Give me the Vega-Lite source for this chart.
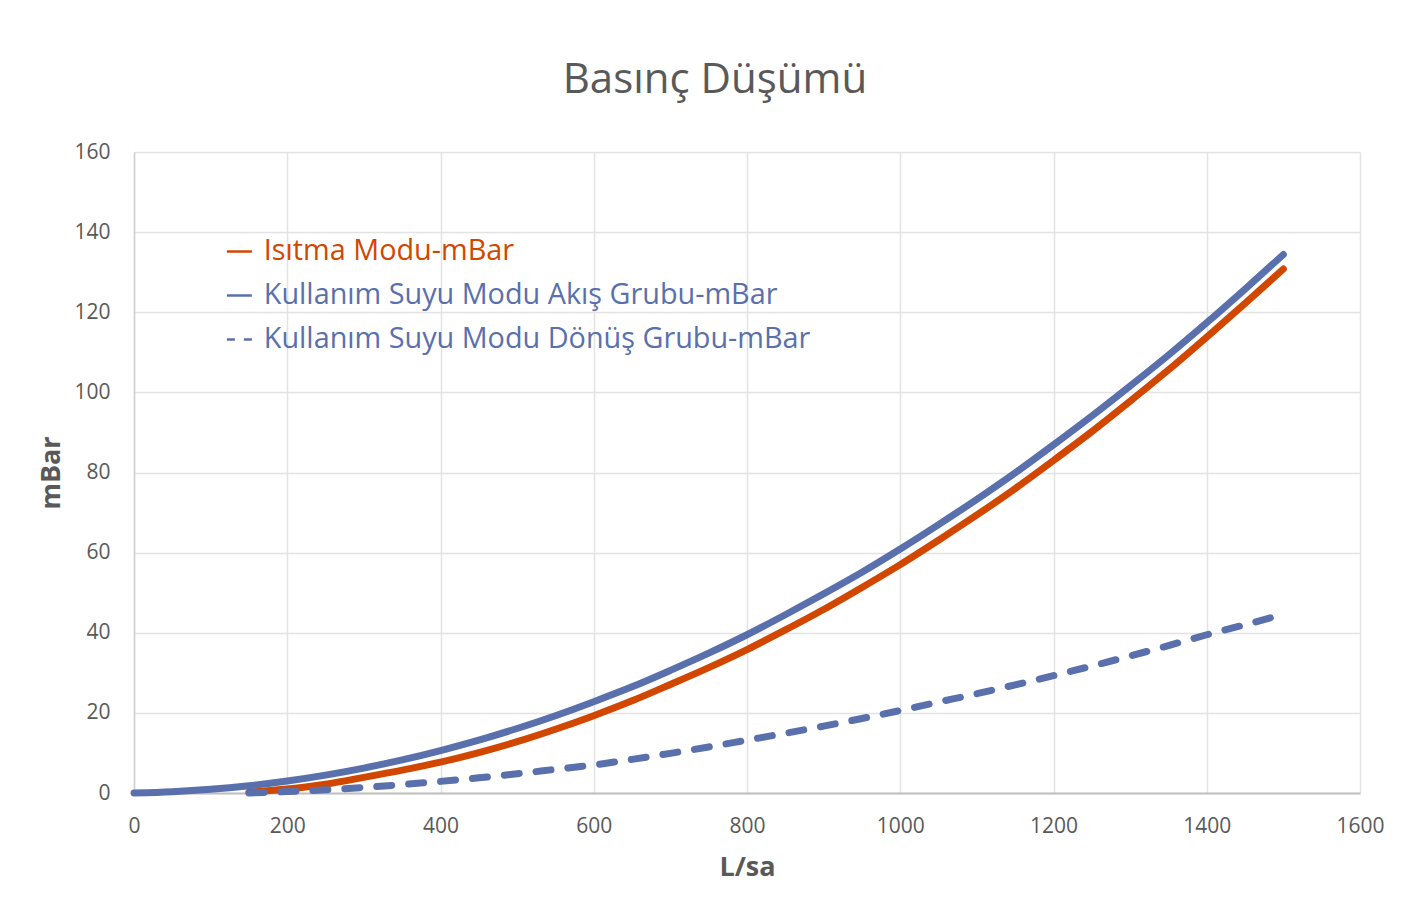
{
  "$schema": "https://vega.github.io/schema/vega-lite/v6.json",
  "width": 1226,
  "height": 641,
  "autosize": {"type": "none"},
  "padding": {"left": 134, "top": 152, "right": 58, "bottom": 125},
  "background": "white",
  "title": {
    "text": "Basınç Düşümü",
    "font": "Open Sans",
    "fontSize": 42,
    "fontWeight": "normal",
    "color": "#595959",
    "anchor": "middle",
    "frame": "group",
    "dx": -32,
    "offset": 39
  },
  "datasets": {
    "rows": [
      {"x": 150, "y": 0.2, "s": "Isıtma Modu-mBar"},
      {"x": 200, "y": 1.0, "s": "Isıtma Modu-mBar"},
      {"x": 250, "y": 2.2, "s": "Isıtma Modu-mBar"},
      {"x": 300, "y": 3.9, "s": "Isıtma Modu-mBar"},
      {"x": 350, "y": 5.7, "s": "Isıtma Modu-mBar"},
      {"x": 400, "y": 7.7, "s": "Isıtma Modu-mBar"},
      {"x": 450, "y": 10.1, "s": "Isıtma Modu-mBar"},
      {"x": 500, "y": 12.8, "s": "Isıtma Modu-mBar"},
      {"x": 550, "y": 15.9, "s": "Isıtma Modu-mBar"},
      {"x": 600, "y": 19.3, "s": "Isıtma Modu-mBar"},
      {"x": 650, "y": 23.0, "s": "Isıtma Modu-mBar"},
      {"x": 700, "y": 27.1, "s": "Isıtma Modu-mBar"},
      {"x": 750, "y": 31.3, "s": "Isıtma Modu-mBar"},
      {"x": 800, "y": 35.8, "s": "Isıtma Modu-mBar"},
      {"x": 850, "y": 40.7, "s": "Isıtma Modu-mBar"},
      {"x": 900, "y": 45.8, "s": "Isıtma Modu-mBar"},
      {"x": 950, "y": 51.3, "s": "Isıtma Modu-mBar"},
      {"x": 1000, "y": 57.0, "s": "Isıtma Modu-mBar"},
      {"x": 1050, "y": 63.1, "s": "Isıtma Modu-mBar"},
      {"x": 1100, "y": 69.4, "s": "Isıtma Modu-mBar"},
      {"x": 1150, "y": 76.0, "s": "Isıtma Modu-mBar"},
      {"x": 1200, "y": 83.0, "s": "Isıtma Modu-mBar"},
      {"x": 1250, "y": 90.2, "s": "Isıtma Modu-mBar"},
      {"x": 1300, "y": 97.8, "s": "Isıtma Modu-mBar"},
      {"x": 1350, "y": 105.6, "s": "Isıtma Modu-mBar"},
      {"x": 1400, "y": 113.8, "s": "Isıtma Modu-mBar"},
      {"x": 1450, "y": 122.2, "s": "Isıtma Modu-mBar"},
      {"x": 1500, "y": 130.8, "s": "Isıtma Modu-mBar"},
      {"x": 0, "y": 0, "s": "Kullanım Suyu Modu Akış Grubu-mBar"},
      {"x": 50, "y": 0.32, "s": "Kullanım Suyu Modu Akış Grubu-mBar"},
      {"x": 100, "y": 0.92, "s": "Kullanım Suyu Modu Akış Grubu-mBar"},
      {"x": 150, "y": 1.82, "s": "Kullanım Suyu Modu Akış Grubu-mBar"},
      {"x": 200, "y": 3.0, "s": "Kullanım Suyu Modu Akış Grubu-mBar"},
      {"x": 250, "y": 4.47, "s": "Kullanım Suyu Modu Akış Grubu-mBar"},
      {"x": 300, "y": 6.22, "s": "Kullanım Suyu Modu Akış Grubu-mBar"},
      {"x": 350, "y": 8.26, "s": "Kullanım Suyu Modu Akış Grubu-mBar"},
      {"x": 400, "y": 10.6, "s": "Kullanım Suyu Modu Akış Grubu-mBar"},
      {"x": 450, "y": 13.2, "s": "Kullanım Suyu Modu Akış Grubu-mBar"},
      {"x": 500, "y": 16.1, "s": "Kullanım Suyu Modu Akış Grubu-mBar"},
      {"x": 550, "y": 19.3, "s": "Kullanım Suyu Modu Akış Grubu-mBar"},
      {"x": 600, "y": 22.8, "s": "Kullanım Suyu Modu Akış Grubu-mBar"},
      {"x": 650, "y": 26.5, "s": "Kullanım Suyu Modu Akış Grubu-mBar"},
      {"x": 700, "y": 30.6, "s": "Kullanım Suyu Modu Akış Grubu-mBar"},
      {"x": 750, "y": 34.9, "s": "Kullanım Suyu Modu Akış Grubu-mBar"},
      {"x": 800, "y": 39.5, "s": "Kullanım Suyu Modu Akış Grubu-mBar"},
      {"x": 850, "y": 44.5, "s": "Kullanım Suyu Modu Akış Grubu-mBar"},
      {"x": 900, "y": 49.7, "s": "Kullanım Suyu Modu Akış Grubu-mBar"},
      {"x": 950, "y": 55.1, "s": "Kullanım Suyu Modu Akış Grubu-mBar"},
      {"x": 1000, "y": 60.9, "s": "Kullanım Suyu Modu Akış Grubu-mBar"},
      {"x": 1050, "y": 67.0, "s": "Kullanım Suyu Modu Akış Grubu-mBar"},
      {"x": 1100, "y": 73.3, "s": "Kullanım Suyu Modu Akış Grubu-mBar"},
      {"x": 1150, "y": 79.9, "s": "Kullanım Suyu Modu Akış Grubu-mBar"},
      {"x": 1200, "y": 86.9, "s": "Kullanım Suyu Modu Akış Grubu-mBar"},
      {"x": 1250, "y": 94.1, "s": "Kullanım Suyu Modu Akış Grubu-mBar"},
      {"x": 1300, "y": 101.6, "s": "Kullanım Suyu Modu Akış Grubu-mBar"},
      {"x": 1350, "y": 109.3, "s": "Kullanım Suyu Modu Akış Grubu-mBar"},
      {"x": 1400, "y": 117.4, "s": "Kullanım Suyu Modu Akış Grubu-mBar"},
      {"x": 1450, "y": 125.8, "s": "Kullanım Suyu Modu Akış Grubu-mBar"},
      {"x": 1500, "y": 134.4, "s": "Kullanım Suyu Modu Akış Grubu-mBar"},
      {"x": 150, "y": 0.0, "s": "Kullanım Suyu Modu Dönüş Grubu-mBar"},
      {"x": 200, "y": 0.35, "s": "Kullanım Suyu Modu Dönüş Grubu-mBar"},
      {"x": 250, "y": 0.8, "s": "Kullanım Suyu Modu Dönüş Grubu-mBar"},
      {"x": 300, "y": 1.4, "s": "Kullanım Suyu Modu Dönüş Grubu-mBar"},
      {"x": 350, "y": 2.1, "s": "Kullanım Suyu Modu Dönüş Grubu-mBar"},
      {"x": 400, "y": 2.9, "s": "Kullanım Suyu Modu Dönüş Grubu-mBar"},
      {"x": 450, "y": 3.8, "s": "Kullanım Suyu Modu Dönüş Grubu-mBar"},
      {"x": 500, "y": 4.8, "s": "Kullanım Suyu Modu Dönüş Grubu-mBar"},
      {"x": 550, "y": 5.9, "s": "Kullanım Suyu Modu Dönüş Grubu-mBar"},
      {"x": 600, "y": 7.0, "s": "Kullanım Suyu Modu Dönüş Grubu-mBar"},
      {"x": 650, "y": 8.4, "s": "Kullanım Suyu Modu Dönüş Grubu-mBar"},
      {"x": 700, "y": 9.9, "s": "Kullanım Suyu Modu Dönüş Grubu-mBar"},
      {"x": 750, "y": 11.5, "s": "Kullanım Suyu Modu Dönüş Grubu-mBar"},
      {"x": 800, "y": 13.2, "s": "Kullanım Suyu Modu Dönüş Grubu-mBar"},
      {"x": 850, "y": 14.9, "s": "Kullanım Suyu Modu Dönüş Grubu-mBar"},
      {"x": 900, "y": 16.7, "s": "Kullanım Suyu Modu Dönüş Grubu-mBar"},
      {"x": 950, "y": 18.6, "s": "Kullanım Suyu Modu Dönüş Grubu-mBar"},
      {"x": 1000, "y": 20.6, "s": "Kullanım Suyu Modu Dönüş Grubu-mBar"},
      {"x": 1050, "y": 22.7, "s": "Kullanım Suyu Modu Dönüş Grubu-mBar"},
      {"x": 1100, "y": 24.8, "s": "Kullanım Suyu Modu Dönüş Grubu-mBar"},
      {"x": 1150, "y": 27.0, "s": "Kullanım Suyu Modu Dönüş Grubu-mBar"},
      {"x": 1200, "y": 29.3, "s": "Kullanım Suyu Modu Dönüş Grubu-mBar"},
      {"x": 1250, "y": 31.7, "s": "Kullanım Suyu Modu Dönüş Grubu-mBar"},
      {"x": 1300, "y": 34.2, "s": "Kullanım Suyu Modu Dönüş Grubu-mBar"},
      {"x": 1350, "y": 36.8, "s": "Kullanım Suyu Modu Dönüş Grubu-mBar"},
      {"x": 1400, "y": 39.5, "s": "Kullanım Suyu Modu Dönüş Grubu-mBar"},
      {"x": 1450, "y": 42.0, "s": "Kullanım Suyu Modu Dönüş Grubu-mBar"},
      {"x": 1500, "y": 44.6, "s": "Kullanım Suyu Modu Dönüş Grubu-mBar"}
    ]
  },
  "data": {"name": "rows"},
  "encoding": {
    "x": {
      "field": "x",
      "type": "quantitative",
      "scale": {"domain": [0, 1600], "nice": false, "zero": true},
      "axis": {
        "title": "L/sa",
        "values": [0, 200, 400, 600, 800, 1000, 1200, 1400, 1600],
        "format": "d",
        "labelFlush": false,
        "grid": true,
        "gridColor": "#E3E3E3",
        "gridWidth": 1.5,
        "domainColor": "#BFBFBF",
        "domainWidth": 2,
        "ticks": false,
        "tickSize": 0,
        "labelPadding": 22,
        "labelFont": "Open Sans",
        "labelFontSize": 21,
        "labelColor": "#595959",
        "titleFont": "Open Sans",
        "titleFontSize": 27,
        "titleFontWeight": "bold",
        "titleColor": "#595959",
        "titlePadding": 18
      }
    },
    "y": {
      "field": "y",
      "type": "quantitative",
      "scale": {"domain": [0, 160], "nice": false},
      "axis": {
        "title": "mBar",
        "values": [0, 20, 40, 60, 80, 100, 120, 140, 160],
        "format": "d",
        "labelFlush": false,
        "grid": true,
        "gridColor": "#E3E3E3",
        "gridWidth": 1.5,
        "domainColor": "#CFCFCF",
        "domainWidth": 1.5,
        "ticks": false,
        "tickSize": 0,
        "labelPadding": 24,
        "labelFont": "Open Sans",
        "labelFontSize": 21,
        "labelColor": "#595959",
        "titleFont": "Open Sans",
        "titleFontSize": 27,
        "titleFontWeight": "bold",
        "titleColor": "#595959",
        "titlePadding": 8
      }
    },
    "color": {
      "field": "s",
      "type": "nominal",
      "scale": {
        "domain": ["Isıtma Modu-mBar", "Kullanım Suyu Modu Akış Grubu-mBar", "Kullanım Suyu Modu Dönüş Grubu-mBar"],
        "range": ["#D24700", "#5A70AC", "#5A70AC"]
      },
      "legend": {
        "title": null,
        "orient": "none",
        "legendX": 91,
        "legendY": 85,
        "padding": 0,
        "symbolType": "stroke",
        "symbolSize": 625,
        "symbolStrokeWidth": 2.5,
        "labelFont": "Open Sans",
        "labelFontSize": 28.8,
        "labelOffset": 10,
        "labelLimit": 0,
        "rowPadding": 14,
        "encode": {
          "labels": {"update": {"fill": {"signal": "indexof(datum.value, 'Isıtma') >= 0 ? '#D24700' : '#5A70AC'"}}},
          "symbols": {"update": {"strokeDash": {"signal": "indexof(datum.value, 'Dönüş') >= 0 ? [8, 9] : [1, 0]"}}}
        }
      }
    }
  },
  "layer": [
    {
      "transform": [{"filter": "datum.s === 'Isıtma Modu-mBar'"}],
      "mark": {"type": "line", "strokeWidth": 7, "strokeCap": "round", "interpolate": "monotone"}
    },
    {
      "transform": [{"filter": "datum.s === 'Kullanım Suyu Modu Akış Grubu-mBar'"}],
      "mark": {"type": "line", "strokeWidth": 7, "strokeCap": "round", "interpolate": "monotone"}
    },
    {
      "transform": [{"filter": "datum.s === 'Kullanım Suyu Modu Dönüş Grubu-mBar'"}],
      "mark": {"type": "line", "strokeWidth": 7, "strokeCap": "round", "strokeDash": [15, 17], "interpolate": "monotone"}
    }
  ],
  "config": {
    "view": {"stroke": null},
    "font": "Open Sans"
  }
}
